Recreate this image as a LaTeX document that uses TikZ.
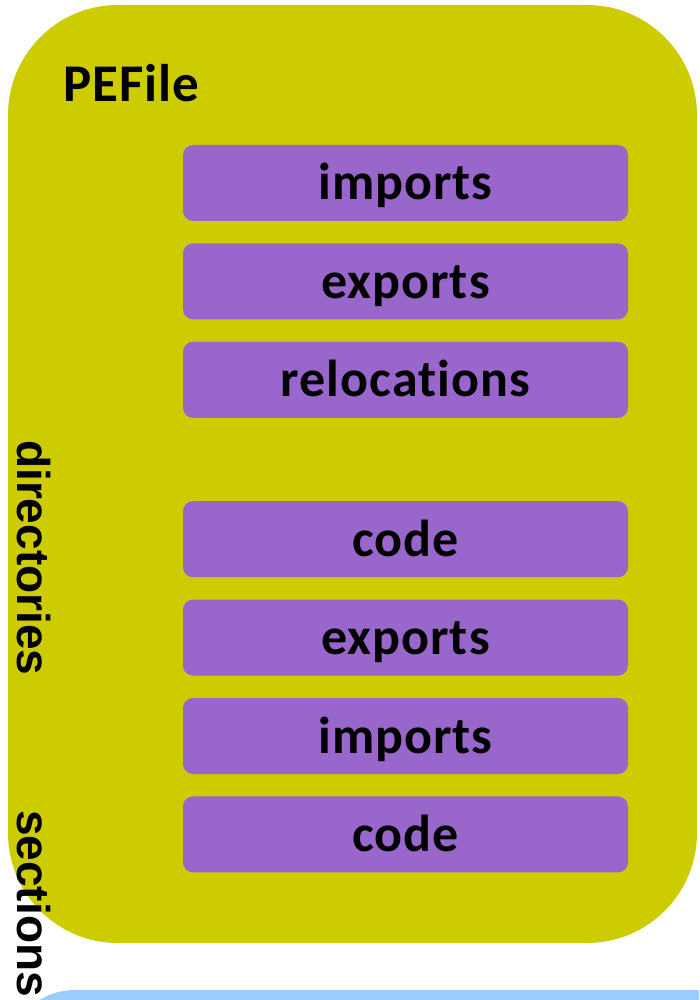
\documentclass[tikz,border=0pt]{standalone}
\usepackage{fontspec}
\setmainfont{Carlito}[Ligatures=NoCommon,LetterSpace=2]
\newfontfamily\dirsfont{Liberation Sans Bold}[Ligatures=NoCommon]
\usetikzlibrary{positioning}
\definecolor{pefilebg}{HTML}{CCCC00}
\definecolor{entrybg}{HTML}{9966CC}
\definecolor{nextbg}{HTML}{99CCFF}
\tikzset{
  entry/.style={fill=entrybg, rounded corners=10pt, minimum width=445pt, minimum height=76pt,
    inner sep=0pt, text height=36pt, text depth=2pt, font=\bfseries\fontsize{52}{52}\selectfont},
  sidelabel/.style={rotate=-90, anchor=base west, inner sep=0pt,
    font={\fontsize{46}{46}\dirsfont}}
}

\begin{document}
\begin{tikzpicture}[x=1pt,y=1pt]

\useasboundingbox (0,0) rectangle (699,-1000);

\begin{scope}
\clip (0,0) rectangle (699,-1000);
\fill[nextbg,rounded corners=67pt] (8,-990) rectangle (800,-1300);
\end{scope}

\fill[pefilebg,rounded corners=110pt] (8,-5) rectangle (697,-943);
\node[anchor=base west,inner sep=0pt,font=\bfseries\fontsize{53}{53}\selectfont] (title) at (63,-102) {PEFile};

\node[entry] (imports) at (405.5,-183) {imports};
\node[entry,below=22pt of imports] (exports) {exports};
\node[entry,below=22pt of exports] (relocs) {relocations};

\node[entry,below=83pt of relocs] (code) {code};
\node[entry,below=22pt of code] (secexports) {exports};
\node[entry,below=22pt of secexports] (secimports) {imports};
\node[entry,below=22pt of secimports] (seccode) {code};

\node[sidelabel] (dirs) at (17,-440) {directories};
\node[sidelabel] (secs) at (17,-810) {sections};

\end{tikzpicture}
\end{document}
